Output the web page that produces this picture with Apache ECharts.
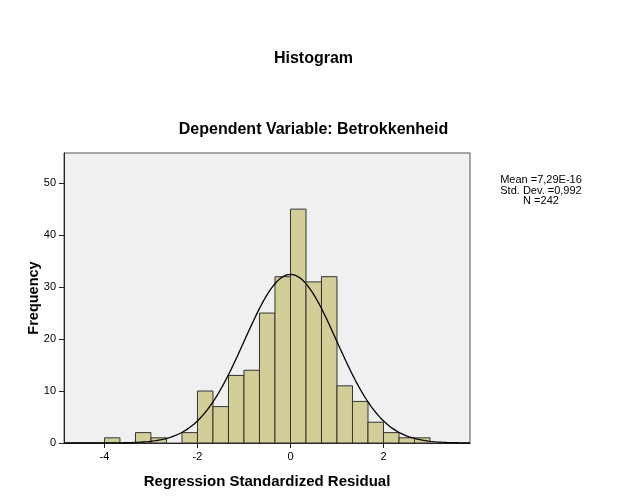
<!DOCTYPE html>
<html><head><meta charset="utf-8">
<script src="https://cdn.jsdelivr.net/npm/echarts@6/dist/echarts.min.js"></script>
<style>html,body{margin:0;padding:0;background:#fff}#c{width:627px;height:502px}</style>
</head><body><div id="c"></div>
<script>
// Histogram bins (left edges, width 1/3) and frequencies
const binStart = -4;
const binWidth = 1/3;
const freqs = [1,0,2,1,0,2,10,7,13,14,25,32,45,31,32,11,8,4,2,1,1];
const xTicks = [-4,-2,0,2];
const yTicks = [0,10,20,30,40,50];
const stats = {mean: 7.29e-16, sd: 0.992, n: 242};
const statsText = ['Mean =7,29E-16','Std. Dev. =0,992','N =242'];

const bars = freqs.map((f,i)=>[binStart+i*binWidth, binStart+(i+1)*binWidth, f]).filter(d=>d[2]>0);

// Normal curve defined by the stated mean, SD and N
const curve = [];
const xmin = -4.87, xmax = 3.86;
for (let k=0;k<=300;k++){
  const x = xmin + (xmax-xmin)*k/300;
  const z = (x-stats.mean)/stats.sd;
  curve.push([x, stats.n*binWidth*Math.exp(-0.5*z*z)/(stats.sd*Math.sqrt(2*Math.PI))]);
}

const font = 'Liberation Sans, Arial, sans-serif';
const chart = echarts.init(document.getElementById('c'), null, {renderer:'canvas'});
chart.setOption({
  animation:false,
  backgroundColor:'#fff',
  title:[
    {text:'Histogram', left:'center', top:46, textStyle:{fontFamily:font,fontSize:16,fontWeight:'bold',color:'#000'}},
    {text:'Dependent Variable: Betrokkenheid', left:'center', top:117, textStyle:{fontFamily:font,fontSize:16,fontWeight:'bold',color:'#000'}}
  ],
  graphic:[{type:'text', x:541, y:175, style:{text:statsText.join('\n'), align:'center', verticalAlign:'top', fontFamily:font, fontSize:11, lineHeight:10.5, fill:'#000'}}],
  grid:{left:64, top:153, width:406, height:290, show:true, backgroundColor:'#F0F0F0', borderColor:'#555', borderWidth:1},
  xAxis:{type:'value', min:xmin, max:xmax,
    name:'Regression Standardized Residual', nameLocation:'middle', nameGap:31,
    nameTextStyle:{fontFamily:font,fontSize:15,fontWeight:'bold',color:'#000'},
    axisLine:{show:true,onZero:false,lineStyle:{color:'#222',width:1}},
    axisTick:{show:true,length:5,lineStyle:{color:'#222'},customValues:xTicks},
    axisLabel:{customValues:xTicks,fontFamily:font,fontSize:11,color:'#000',margin:8},
    splitLine:{show:false}},
  yAxis:{type:'value', min:0, max:55.8,
    name:'Frequency', nameLocation:'middle', nameGap:23, nameMoveOverlap:false,
    nameTextStyle:{fontFamily:font,fontSize:14.5,fontWeight:'bold',color:'#000'},
    axisLine:{show:true,onZero:false,lineStyle:{color:'#222',width:1}},
    axisTick:{show:true,length:5,lineStyle:{color:'#222'},customValues:yTicks},
    axisLabel:{customValues:yTicks,fontFamily:font,fontSize:11,color:'#000',margin:8},
    splitLine:{show:false}},
  series:[
    {type:'custom', data:bars, renderItem:function(params, api){
      const p0 = api.coord([api.value(0), 0]);
      const p1 = api.coord([api.value(1), api.value(2)]);
      return {type:'rect', shape:{x:p0[0], y:p1[1], width:p1[0]-p0[0], height:p0[1]-p1[1]},
        style:{fill:'#D3CE97', stroke:'#333', lineWidth:1}};
    }, encode:{x:[0,1], y:2}},
    {type:'line', data:curve, showSymbol:false, symbol:'none', smooth:false,
      lineStyle:{color:'#000', width:1.3}, z:5}
  ]
});
</script></body></html>
